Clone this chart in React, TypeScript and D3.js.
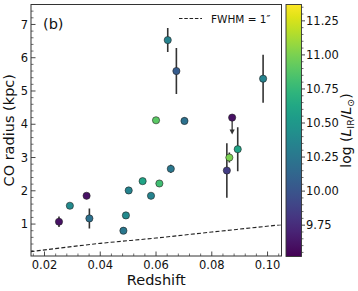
import { useEffect, useRef } from 'react'
import * as d3 from 'd3'

// CO radius vs redshift, coloured by log L_IR
const redshift = [
  0.0252, 0.0291, 0.0351, 0.0361, 0.0502, 0.0492, 0.0483, 0.0552, 0.0582, 0.0612,
  0.0653, 0.06, 0.0702, 0.0873, 0.0863, 0.0854, 0.0893, 0.0642, 0.0673, 0.0984,
]
const radius = [
  1.07, 1.55, 1.85, 1.17, 2.01, 1.26, 0.8, 2.29, 1.85, 2.22,
  2.66, 4.12, 4.1, 4.2, 3.0, 2.61, 3.25, 6.53, 5.6, 5.37,
]
const radiusErr = [
  0.16, 0.05, 0.05, 0.3, 0.05, 0.08, 0.1, 0.05, 0.05, 0.1,
  0.12, 0.04, 0.1, 0, 0.15, 0.82, 0.66, 0.36, 0.69, 0.72,
]
const logLIR = [
  9.6, 10.4, 9.6, 10.2, 10.35, 10.4, 10.25, 10.6, 10.35, 10.8,
  10.25, 10.9, 10.2, 9.6, 11.0, 9.85, 10.6, 10.35, 10.05, 10.35,
]
const upperLimit = [
  false, false, false, false, false, false, false, false, false, false,
  false, false, false, true, false, false, false, false, false, false,
]

// half of 1 arcsec in kpc
const beamZ = [0.015, 0.04, 0.06, 0.08, 0.105]
const beamR = [0.17, 0.42, 0.58, 0.76, 0.98]

const xTicks = [0.02, 0.04, 0.06, 0.08, 0.1]
const yTicks = [1, 2, 3, 4, 5, 6, 7]
const cTicks = [9.75, 10.0, 10.25, 10.5, 10.75, 11.0, 11.25]

const W = 358
const H = 291
const FONT = 'DejaVu Sans, sans-serif'
const INK = '#333'

export default function App() {
  const svgRef = useRef<SVGSVGElement>(null)

  useEffect(() => {
    if (!svgRef.current) return
    const svg = d3.select(svgRef.current)
    svg.selectAll('*').remove()

    const plot = { left: 31, right: 281.5, top: 4.5, bottom: 256 }

    const x = d3.scaleLinear().domain([0.01516, 0.105]).range([plot.left, plot.right])
    const y = d3.scaleLinear().domain([0.04, 7.6]).range([plot.bottom, plot.top])
    const cDomain: [number, number] = [9.52, 11.37]
    const color = d3.scaleSequential(d3.interpolateViridis).domain(cDomain)

    // clip for data
    svg.append('defs').append('clipPath').attr('id', 'plotclip')
      .append('rect')
      .attr('x', plot.left).attr('y', plot.top)
      .attr('width', plot.right - plot.left).attr('height', plot.bottom - plot.top)

    // beam curve
    const line = d3.line<number>()
      .x((_, i) => x(beamZ[i]))
      .y((d) => y(d))
      .curve(d3.curveMonotoneX)
    svg.append('path')
      .datum(beamR)
      .attr('clip-path', 'url(#plotclip)')
      .attr('d', line)
      .attr('fill', 'none')
      .attr('stroke', '#222')
      .attr('stroke-width', 1.1)
      .attr('stroke-dasharray', '4,2.2')

    const idx = d3.range(redshift.length)

    // error bars
    const g = svg.append('g').attr('clip-path', 'url(#plotclip)')
    g.selectAll('.err')
      .data(idx.filter((i) => !upperLimit[i] && radiusErr[i] > 0))
      .enter()
      .append('line')
      .attr('x1', (i) => x(redshift[i]))
      .attr('x2', (i) => x(redshift[i]))
      .attr('y1', (i) => y(radius[i] - radiusErr[i]))
      .attr('y2', (i) => y(radius[i] + radiusErr[i]))
      .attr('stroke', INK)
      .attr('stroke-width', 1.6)

    // upper limit arrows
    const ul = idx.filter((i) => upperLimit[i])
    g.selectAll('.ul')
      .data(ul)
      .enter()
      .append('line')
      .attr('x1', (i) => x(redshift[i]))
      .attr('x2', (i) => x(redshift[i]))
      .attr('y1', (i) => y(radius[i]))
      .attr('y2', (i) => y(radius[i]) + 14)
      .attr('stroke', INK)
      .attr('stroke-width', 1.3)
    g.selectAll('.ulhead')
      .data(ul)
      .enter()
      .append('path')
      .attr('d', (i) => {
        const px = x(redshift[i])
        const py = y(radius[i]) + 17
        return `M${px},${py} L${px - 2.6},${py - 5} L${px + 2.6},${py - 5} Z`
      })
      .attr('fill', INK)

    // markers
    g.selectAll('.pt')
      .data(idx)
      .enter()
      .append('circle')
      .attr('cx', (i) => x(redshift[i]))
      .attr('cy', (i) => y(radius[i]))
      .attr('r', 3.6)
      .attr('fill', (i) => color(logLIR[i]))
      .attr('stroke', '#222')
      .attr('stroke-width', 0.6)

    // axes (ticks pointing in)
    const axes = svg.append('g')
    const xMinor = d3.range(0.016, 0.1051, 0.004).filter((v) => !xTicks.some((t) => Math.abs(t - v) < 1e-6))
    const yMinor = d3.range(0.2, 7.6, 0.2).filter((v) => !yTicks.some((t) => Math.abs(t - v) < 1e-6))

    axes.selectAll('.xmaj').data(xTicks).enter().append('line')
      .attr('x1', (d) => x(d)).attr('x2', (d) => x(d))
      .attr('y1', plot.bottom).attr('y2', plot.bottom - 4.5)
      .attr('stroke', INK).attr('stroke-width', 0.9)
    axes.selectAll('.xmin').data(xMinor).enter().append('line')
      .attr('x1', (d) => x(d)).attr('x2', (d) => x(d))
      .attr('y1', plot.bottom).attr('y2', plot.bottom - 2.5)
      .attr('stroke', INK).attr('stroke-width', 0.7)
    axes.selectAll('.ymaj').data(yTicks).enter().append('line')
      .attr('x1', plot.left).attr('x2', plot.left + 4.5)
      .attr('y1', (d) => y(d)).attr('y2', (d) => y(d))
      .attr('stroke', INK).attr('stroke-width', 0.9)
    axes.selectAll('.ymin').data(yMinor).enter().append('line')
      .attr('x1', plot.left).attr('x2', plot.left + 2.5)
      .attr('y1', (d) => y(d)).attr('y2', (d) => y(d))
      .attr('stroke', INK).attr('stroke-width', 0.7)

    axes.selectAll('.xlab').data(xTicks).enter().append('text')
      .attr('x', (d) => x(d)).attr('y', plot.bottom + 12.5)
      .attr('text-anchor', 'middle')
      .attr('font-family', FONT).attr('font-size', 11.5).attr('fill', '#111')
      .text((d) => d3.format('.2f')(d))
    axes.selectAll('.ylab').data(yTicks).enter().append('text')
      .attr('x', plot.left - 3).attr('y', (d) => y(d) + 4.2)
      .attr('text-anchor', 'end')
      .attr('font-family', FONT).attr('font-size', 11.5).attr('fill', '#111')
      .text((d) => d)

    svg.append('rect')
      .attr('x', plot.left).attr('y', plot.top)
      .attr('width', plot.right - plot.left).attr('height', plot.bottom - plot.top)
      .attr('fill', 'none').attr('stroke', INK).attr('stroke-width', 1)

    svg.append('text')
      .attr('x', (plot.left + plot.right) / 2).attr('y', 284.5)
      .attr('text-anchor', 'middle')
      .attr('font-family', FONT).attr('font-size', 14.5).attr('fill', '#111')
      .text('Redshift')
    svg.append('text')
      .attr('transform', `translate(14,${(plot.top + plot.bottom) / 2}) rotate(-90)`)
      .attr('text-anchor', 'middle')
      .attr('font-family', FONT).attr('font-size', 14.5).attr('fill', '#111')
      .text('CO radius (kpc)')

    svg.append('text')
      .attr('x', 43).attr('y', 29)
      .attr('font-family', FONT).attr('font-size', 14.5).attr('fill', '#111')
      .text('(b)')

    // legend
    svg.append('line')
      .attr('x1', 179).attr('x2', 202).attr('y1', 18.5).attr('y2', 18.5)
      .attr('stroke', '#222').attr('stroke-width', 1.1).attr('stroke-dasharray', '3.5,1.8')
    svg.append('text')
      .attr('x', 211).attr('y', 22.5)
      .attr('font-family', FONT).attr('font-size', 10.5).attr('fill', '#111')
      .text('FWHM = 1″')

    // colorbar
    const cb = { left: 286, right: 301.5, top: 4.5, bottom: 256.5 }
    const cy = d3.scaleLinear().domain(cDomain).range([cb.bottom, cb.top])
    const grad = svg.select('defs').append('linearGradient')
      .attr('id', 'cbgrad').attr('x1', 0).attr('x2', 0).attr('y1', 1).attr('y2', 0)
    d3.range(0, 1.0001, 0.05).forEach((t) => {
      grad.append('stop').attr('offset', t).attr('stop-color', d3.interpolateViridis(t))
    })
    svg.append('rect')
      .attr('x', cb.left).attr('y', cb.top)
      .attr('width', cb.right - cb.left).attr('height', cb.bottom - cb.top)
      .attr('fill', 'url(#cbgrad)').attr('stroke', INK).attr('stroke-width', 0.9)

    const cMinor = d3.range(9.55, 11.37, 0.05).filter((v) => !cTicks.some((t) => Math.abs(t - v) < 1e-6))
    svg.selectAll('.cmaj').data(cTicks).enter().append('line')
      .attr('x1', cb.right).attr('x2', cb.right + 3.5)
      .attr('y1', (d) => cy(d)).attr('y2', (d) => cy(d))
      .attr('stroke', INK).attr('stroke-width', 0.9)
    svg.selectAll('.cmin').data(cMinor).enter().append('line')
      .attr('x1', cb.right).attr('x2', cb.right + 2)
      .attr('y1', (d) => cy(d)).attr('y2', (d) => cy(d))
      .attr('stroke', INK).attr('stroke-width', 0.7)
    svg.selectAll('.clab').data(cTicks).enter().append('text')
      .attr('x', cb.right + 4.5).attr('y', (d) => cy(d) + 4)
      .attr('font-family', FONT).attr('font-size', 11.5).attr('fill', '#111')
      .text((d) => d3.format('.2f')(d))

    const cl = svg.append('text')
      .attr('transform', `translate(351,${(cb.top + cb.bottom) / 2}) rotate(-90)`)
      .attr('text-anchor', 'middle')
      .attr('font-family', FONT).attr('font-size', 14).attr('fill', '#111')
    cl.append('tspan').text('log (')
    cl.append('tspan').attr('font-style', 'italic').text('L')
    cl.append('tspan').attr('font-size', 9.5).attr('dy', 3).text('IR')
    cl.append('tspan').attr('dy', -3).text('/')
    cl.append('tspan').attr('font-style', 'italic').text('L')
    cl.append('tspan').attr('font-size', 9.5).attr('dy', 3).text('⊙')
    cl.append('tspan').attr('dy', -3).text(')')
  }, [])

  return (
    <svg
      ref={svgRef}
      width={W}
      height={H}
      style={{ position: 'fixed', left: 0, top: 0, background: '#fff' }}
    />
  )
}
